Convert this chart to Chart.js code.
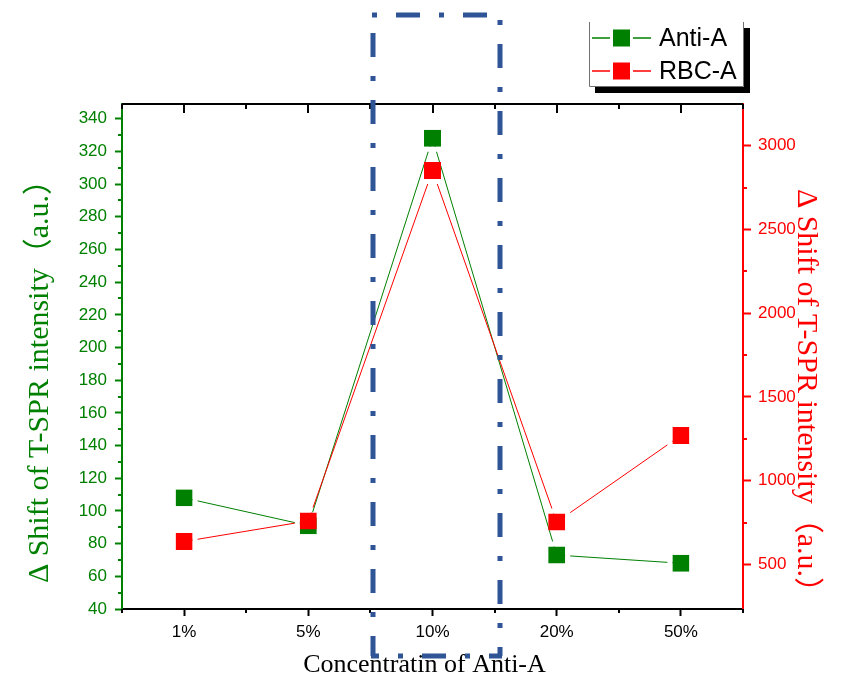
<!DOCTYPE html>
<html>
<head>
<meta charset="utf-8">
<script src="https://cdn.jsdelivr.net/npm/chart.js@4.4.1/dist/chart.umd.min.js"></script>
<style>
  html, body { margin: 0; padding: 0; background: #fff; overflow: hidden; }
  canvas { display: block; }
</style>
</head>
<body>
<canvas id="c" width="846" height="679"></canvas>
<script>
// Concentration categories on the x axis
const categories = ['1%', '5%', '10%', '20%', '50%'];
// Series names
const seriesNames = ['Anti-A', 'RBC-A'];
// Anti-A response (left axis, a.u.)
const antiA = [108, 91, 328, 73, 68];
// RBC-A response (right axis, a.u.)
const rbcA = [637, 760, 2852, 753, 1270];
// Axis ranges and labelled tick values
const leftRange = [40, 349];
const leftTicks = [40, 60, 80, 100, 120, 140, 160, 180, 200, 220, 240, 260, 280, 300, 320, 340];
const rightRange = [234, 3249];
const rightTicks = [500, 1000, 1500, 2000, 2500, 3000];
// Axis titles
const xTitle = 'Concentratin of Anti-A';
const yTitle = 'Δ Shift of T-SPR intensity（a.u.）';

const GREEN = '#008000';
const RED = '#ff0000';
const BOX_BLUE = '#2f5597';
const SANS = '"Liberation Sans", Arial, sans-serif';
const SERIF = '"Liberation Serif", "Times New Roman", "Noto Sans CJK SC", serif';

// Leaves a small white gap in each line around its own markers
const lineGaps = {
  id: 'lineGaps',
  beforeDatasetDraw(chart, args) {
    const ctx = chart.ctx;
    const outer = 13.5, inner = 8.5;
    ctx.save();
    ctx.beginPath();
    ctx.rect(0, 0, chart.width, chart.height);
    args.meta.data.forEach(p => {
      ctx.rect(p.x - outer, p.y - outer, outer * 2, outer * 2);
      ctx.rect(p.x - inner, p.y - inner, inner * 2, inner * 2);
    });
    ctx.clip('evenodd');
  },
  afterDatasetDraw(chart) {
    chart.ctx.restore();
  }
};

// Minor ticks, the top frame line with inward ticks, titles, legend and the highlight box
const decorations = {
  id: 'decorations',
  beforeDatasetsDraw(chart) {
    const ctx = chart.ctx;
    const { left, right, top, bottom } = chart.chartArea;
    const x = chart.scales.x, yL = chart.scales.yL, yR = chart.scales.yR;
    ctx.save();
    ctx.lineWidth = 2;
    // x minor ticks (bottom, outward) and top axis ticks (inward)
    ctx.strokeStyle = '#000';
    ctx.beginPath();
    for (let i = -0.5; i <= categories.length - 0.5; i += 1) {
      const px = Math.round(x.getPixelForValue(i));
      ctx.moveTo(px, bottom); ctx.lineTo(px, bottom + 4);
      ctx.moveTo(px, top); ctx.lineTo(px, top + 5);
    }
    categories.forEach((c, i) => {
      const px = Math.round(x.getPixelForValue(i));
      ctx.moveTo(px, top); ctx.lineTo(px, top + 9);
    });
    ctx.stroke();
    // top frame line
    ctx.beginPath();
    ctx.moveTo(left, top); ctx.lineTo(right, top);
    ctx.stroke();
    // left minor ticks, halfway between labelled ticks
    ctx.strokeStyle = GREEN;
    ctx.beginPath();
    const lStep = leftTicks[1] - leftTicks[0];
    leftTicks.forEach(t => {
      const v = t + lStep / 2;
      if (v >= leftRange[1]) return;
      const py = Math.round(yL.getPixelForValue(v));
      ctx.moveTo(left, py); ctx.lineTo(left - 4, py);
    });
    ctx.stroke();
    // right minor ticks
    ctx.strokeStyle = RED;
    ctx.beginPath();
    const rStep = rightTicks[1] - rightTicks[0];
    [rightTicks[0] - rStep].concat(rightTicks).forEach(t => {
      const v = t + rStep / 2;
      const py = Math.round(yR.getPixelForValue(v));
      if (py > bottom - 5 || py < top + 5) return;
      ctx.moveTo(right, py); ctx.lineTo(right + 4, py);
    });
    ctx.stroke();
    ctx.restore();
  },
  afterDraw(chart) {
    const ctx = chart.ctx;
    const { left, right, top, bottom } = chart.chartArea;
    const x = chart.scales.x;
    ctx.save();

    // axis titles
    ctx.textAlign = 'center';
    ctx.textBaseline = 'middle';
    ctx.font = '30px ' + SERIF;
    ctx.fillStyle = GREEN;
    ctx.save();
    ctx.translate(left - 82, top + 270);
    ctx.rotate(-Math.PI / 2);
    ctx.fillText(yTitle, 0, 0);
    ctx.restore();
    ctx.fillStyle = RED;
    ctx.save();
    ctx.translate(right + 63, top + 294);
    ctx.rotate(Math.PI / 2);
    ctx.fillText(yTitle, 0, 0);
    ctx.restore();
    ctx.fillStyle = '#000';
    ctx.font = '26px ' + SERIF;
    ctx.fillText(xTitle, (left + right) / 2 - 8, bottom + 56);

    // legend with drop shadow
    const lx0 = 589, ly0 = 22, lx1 = 744, ly1 = 87;
    ctx.fillStyle = '#000';
    ctx.fillRect(lx0 + 6, ly0 + 6, lx1 - lx0, ly1 - ly0);
    ctx.fillStyle = '#fff';
    ctx.fillRect(lx0, ly0, lx1 - lx0, ly1 - ly0);
    ctx.strokeStyle = '#707070';
    ctx.lineWidth = 1;
    ctx.beginPath();
    ctx.moveTo(lx0 + 0.5, ly0); ctx.lineTo(lx0 + 0.5, ly1 - 0.5);
    ctx.lineTo(lx1 - 0.5, ly1 - 0.5); ctx.lineTo(lx1 - 0.5, ly0);
    ctx.stroke();
    const colors = [GREEN, RED];
    [38, 71].forEach((ry, i) => {
      ctx.strokeStyle = colors[i];
      ctx.lineWidth = 1.5;
      ctx.beginPath();
      ctx.moveTo(592, ry); ctx.lineTo(610, ry);
      ctx.moveTo(633, ry); ctx.lineTo(651, ry);
      ctx.stroke();
      ctx.fillStyle = colors[i];
      ctx.fillRect(613, ry - 8.5, 17, 17);
      ctx.fillStyle = '#000';
      ctx.font = '25px ' + SANS;
      ctx.textAlign = 'left';
      ctx.textBaseline = 'middle';
      ctx.fillText(seriesNames[i], 659, ry + 1);
    });

    // dash-dot box around the 10% category
    const cx = x.getPixelForValue(2);
    const bx0 = Math.round(cx - 60), bx1 = Math.round(cx + 67);
    const by0 = 15, by1 = 656;
    ctx.strokeStyle = BOX_BLUE;
    ctx.lineWidth = 5;
    ctx.lineCap = 'butt';
    ctx.setLineDash([24, 19, 5, 19]);
    const edge = (x0, y0, x1, y1, off) => {
      ctx.lineDashOffset = off;
      ctx.beginPath();
      ctx.moveTo(x0, y0); ctx.lineTo(x1, y1);
      ctx.stroke();
    };
    edge(bx0 - 2, by0, bx1 + 2, by0, 42);
    edge(bx0, by0, bx0, by1, 49);
    edge(bx1, by0, bx1, by1, 38);
    edge(bx0 - 2, by1, bx1 + 2, by1, 16);
    ctx.restore();
  }
};

const tickFont = { family: SANS, size: 17 };
const plainNumber = v => String(v);

new Chart(document.getElementById('c'), {
  type: 'line',
  data: {
    labels: categories,
    datasets: [
      {
        label: seriesNames[0], data: antiA, yAxisID: 'yL',
        borderColor: GREEN, backgroundColor: GREEN, borderWidth: 1,
        pointStyle: 'rect', pointRadius: 12, pointHoverRadius: 12, pointBorderWidth: 0,
        tension: 0, order: 2
      },
      {
        label: seriesNames[1], data: rbcA, yAxisID: 'yR',
        borderColor: RED, backgroundColor: RED, borderWidth: 1,
        pointStyle: 'rect', pointRadius: 12, pointHoverRadius: 12, pointBorderWidth: 0,
        tension: 0, order: 1
      }
    ]
  },
  options: {
    responsive: false,
    animation: false,
    devicePixelRatio: 1,
    events: [],
    layout: { padding: { top: 104, left: 0, right: 0, bottom: 0 } },
    plugins: { legend: { display: false }, tooltip: { enabled: false } },
    scales: {
      x: {
        type: 'category',
        offset: true,
        grid: { offset: false, drawOnChartArea: false, drawTicks: true, tickLength: 7, tickWidth: 2, tickColor: '#000', color: '#000' },
        border: { display: true, color: '#000', width: 2 },
        ticks: { color: '#000', font: tickFont, padding: 6, maxRotation: 0, autoSkip: false },
        afterFit: s => { s.height = 70; }
      },
      yL: {
        position: 'left',
        min: leftRange[0], max: leftRange[1],
        afterBuildTicks: s => { s.ticks = leftTicks.map(v => ({ value: v })); },
        grid: { drawOnChartArea: false, drawTicks: true, tickLength: 7, tickWidth: 2, tickColor: GREEN, color: GREEN },
        border: { display: true, color: GREEN, width: 2 },
        ticks: { color: GREEN, font: tickFont, padding: 8, callback: plainNumber },
        afterFit: s => { s.width = 122; }
      },
      yR: {
        position: 'right',
        min: rightRange[0], max: rightRange[1],
        afterBuildTicks: s => { s.ticks = rightTicks.map(v => ({ value: v })); },
        grid: { drawOnChartArea: false, drawTicks: true, tickLength: 8, tickWidth: 2, tickColor: RED, color: RED },
        border: { display: true, color: RED, width: 2 },
        ticks: { color: RED, font: tickFont, padding: 7, callback: plainNumber },
        afterFit: s => { s.width = 103; }
      }
    }
  },
  plugins: [lineGaps, decorations]
});
</script>
</body>
</html>
